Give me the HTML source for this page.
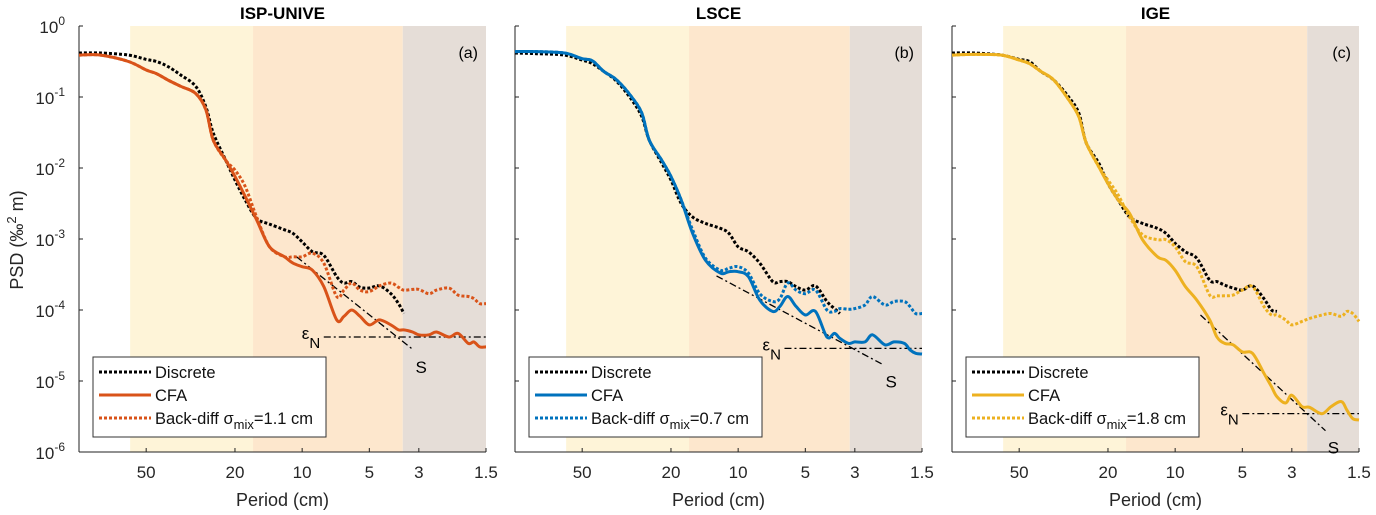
<!DOCTYPE html>
<html><head><meta charset="utf-8">
<style>
html,body{margin:0;padding:0;background:#fff;}
svg{display:block;font-family:"Liberation Sans",Arial,sans-serif;}
</style></head>
<body>
<svg id="chart" width="1376" height="515" viewBox="0 0 1376 515" xmlns="http://www.w3.org/2000/svg"></svg>
<script>
// ---- data ----
const periods = [100,80,60,50,45,40,35,30,27,25,22,20,18,16,14,12,11,10,9,8,7,6.5,6,5.5,5,4.5,4,3.7,3.5,3.2,3,2.7,2.5,2.2,2,1.8,1.7,1.6,1.5];
const xTickLabels = [50,20,10,5,3,1.5];
const yTickExps = [0,-1,-2,-3,-4,-5,-6];
const panelTitles = ["ISP-UNIVE","LSCE","IGE"];
const panelTags = ["(a)","(b)","(c)"];
const panelColors = ["#d95319","#0072bd","#edb120"];
const sigmaLabels = ["1.1","0.7","1.8"];
const grayBandStart = [3.54,3.16,2.56];
// log10 PSD values on the periods grid
const aDiscrete = [-0.38,-0.38,-0.41,-0.47,-0.50,-0.57,-0.69,-0.85,-1.14,-1.51,-1.89,-2.17,-2.45,-2.71,-2.79,-2.87,-2.92,-3.04,-3.18,-3.23,-3.53,-3.62,-3.60,-3.68,-3.69,-3.66,-3.77,-3.91,-4.05,null,null,null,null,null,null,null,null,null,null];
const aCFA = [-0.41,-0.41,-0.50,-0.62,-0.67,-0.76,-0.85,-0.95,-1.18,-1.61,-1.89,-2.12,-2.40,-2.73,-3.11,-3.25,-3.34,-3.39,-3.44,-3.67,-4.14,-4.09,-4.00,-4.09,-4.21,-4.14,-4.21,-4.28,-4.28,-4.31,-4.35,-4.35,-4.31,-4.38,-4.33,-4.47,-4.45,-4.52,-4.52];
const aBack = [-0.41,-0.41,-0.50,-0.62,-0.67,-0.76,-0.85,-0.95,-1.18,-1.61,-1.89,-2.03,-2.26,-2.69,-3.11,-3.25,-3.25,-3.25,-3.20,-3.34,-3.81,-3.72,-3.62,-3.72,-3.74,-3.66,-3.62,-3.68,-3.72,-3.71,-3.71,-3.77,-3.72,-3.69,-3.79,-3.81,-3.84,-3.91,-3.91];
const bDiscrete = [-0.38,-0.39,-0.41,-0.48,-0.53,-0.64,-0.78,-1.04,-1.28,-1.61,-1.93,-2.17,-2.50,-2.69,-2.78,-2.85,-2.92,-3.11,-3.18,-3.34,-3.60,-3.60,-3.60,-3.67,-3.72,-3.66,-3.88,-3.98,-4.05,null,null,null,null,null,null,null,null,null,null];
const bCFA = [-0.36,-0.36,-0.38,-0.46,-0.49,-0.64,-0.76,-1.00,-1.23,-1.61,-1.89,-2.12,-2.45,-2.92,-3.30,-3.48,-3.46,-3.46,-3.53,-3.86,-4.02,-3.95,-3.81,-3.95,-4.07,-4.02,-4.38,-4.33,-4.40,-4.47,-4.45,-4.45,-4.35,-4.49,-4.45,-4.47,-4.56,-4.61,-4.62];
const bBack = [-0.36,-0.36,-0.38,-0.46,-0.49,-0.64,-0.76,-1.00,-1.23,-1.61,-1.89,-2.12,-2.45,-2.87,-3.27,-3.44,-3.41,-3.39,-3.48,-3.77,-3.88,-3.84,-3.62,-3.72,-3.77,-3.72,-4.00,-4.02,-3.98,-3.99,-3.98,-3.93,-3.81,-3.93,-3.88,-3.88,-3.95,-4.05,-4.05];
const cDiscrete = [-0.38,-0.38,-0.41,-0.47,-0.50,-0.64,-0.76,-1.00,-1.23,-1.65,-1.93,-2.22,-2.45,-2.69,-2.78,-2.85,-2.92,-3.06,-3.18,-3.27,-3.58,-3.60,-3.65,-3.69,-3.72,-3.66,-3.84,-4.00,-4.02,null,null,null,null,null,null,null,null,null,null];
const cCFA = [-0.41,-0.40,-0.41,-0.48,-0.53,-0.64,-0.76,-1.04,-1.28,-1.65,-1.98,-2.22,-2.45,-2.64,-3.01,-3.25,-3.30,-3.44,-3.67,-3.86,-4.14,-4.38,-4.47,-4.49,-4.59,-4.61,-4.89,-5.08,-5.22,-5.31,-5.20,-5.36,-5.37,-5.46,-5.36,-5.29,-5.41,-5.53,-5.55];
const cBack = [-0.41,-0.40,-0.41,-0.48,-0.53,-0.64,-0.76,-1.04,-1.28,-1.65,-1.98,-2.17,-2.38,-2.69,-2.94,-3.01,-3.01,-3.11,-3.32,-3.39,-3.79,-3.80,-3.80,-3.79,-3.72,-3.67,-3.95,-4.07,-4.07,-4.14,-4.21,-4.16,-4.12,-4.07,-4.05,-4.09,-4.02,-4.05,-4.16];
// slope line S: [startPeriod, startLog, endPeriod, endLog]; noise level eps_N: [startPeriod, log]
const slopeLines = [[10.6,-3.25,3.18,-4.56],[12.5,-3.52,2.24,-4.77],[7.7,-4.07,2.12,-5.70]];
const noiseLines = [[8.0,-4.38],[6.2,-4.54],[5.0,-5.46]];

const NS="http://www.w3.org/2000/svg";
const svg=document.getElementById('chart');
function el(tag,attrs,parent){const e=document.createElementNS(NS,tag);for(const k in attrs)e.setAttribute(k,attrs[k]);(parent||svg).appendChild(e);return e;}
function smoothPath(pts){
  if(!pts.length)return '';
  let d='M'+pts[0][0].toFixed(1)+','+pts[0][1].toFixed(1);
  for(let i=0;i<pts.length-1;i++){
    const p0=pts[i-1]||pts[i],p1=pts[i],p2=pts[i+1],p3=pts[i+2]||p2;
    const c1=[p1[0]+(p2[0]-p0[0])/6,p1[1]+(p2[1]-p0[1])/6];
    const c2=[p2[0]-(p3[0]-p1[0])/6,p2[1]-(p3[1]-p1[1])/6];
    d+='C'+c1[0].toFixed(1)+','+c1[1].toFixed(1)+' '+c2[0].toFixed(1)+','+c2[1].toFixed(1)+' '+p2[0].toFixed(1)+','+p2[1].toFixed(1);
  }
  return d;
}

const panelLefts=[79,515,952], W=407, TOP=26, BOT=452;
const pMax=100, pMin=1.5;
const series=[[aDiscrete,aCFA,aBack],[bDiscrete,bCFA,bBack],[cDiscrete,cCFA,cBack]];

for(let p=0;p<3;p++){
  const L=panelLefts[p];
  const xs=P=>L+(Math.log10(pMax)-Math.log10(P))/(Math.log10(pMax)-Math.log10(pMin))*W;
  const ys=lg=>TOP+(0-lg)/6*(BOT-TOP);
  const g=el('g',{});
  
  
  const bands=[[59,16.6,'#fef4d8','band-transition'],[16.6,grayBandStart[p],'#fde7cd','band-signal'],[grayBandStart[p],pMin,'#e5ddd7','band-noise']];
  bands.forEach(b=>{const r=el('rect',{x:xs(b[0]),y:TOP,width:xs(b[1])-xs(b[0]),height:BOT-TOP,fill:b[2]},g);
    
    });
  const t=el('text',{x:L+W/2,y:19,'text-anchor':'middle','font-size':17,'font-weight':'bold'},g);t.textContent=panelTitles[p];
  
  
  const tag=el('text',{x:L+W-8,y:58,'text-anchor':'end','font-size':16},g);tag.textContent=panelTags[p];
  
  
  el('line',{x1:L,y1:TOP,x2:L,y2:BOT,stroke:'#222','stroke-width':1},g);
  el('line',{x1:L,y1:BOT,x2:L+W,y2:BOT,stroke:'#222','stroke-width':1},g);
  yTickExps.forEach(e=>{const y=ys(e);el('line',{x1:L,y1:y,x2:L+4,y2:y,stroke:'#222'},g);
    if(p===0){const tx=el('text',{x:L-14,y:y+7,'text-anchor':'end','font-size':17,fill:'#262626'},g);
      tx.textContent='10';const ts=el('tspan',{dy:-8,'font-size':12},tx);ts.textContent=String(e);
      
      }});
  xTickLabels.forEach(v=>{const x=xs(v);el('line',{x1:x,y1:BOT,x2:x,y2:BOT-4,stroke:'#222'},g);
    const tx=el('text',{x:x,y:478,'text-anchor':'middle','font-size':17,fill:'#262626'},g);tx.textContent=String(v);
    
    });
  const xl=el('text',{x:L+W/2,y:506,'text-anchor':'middle','font-size':18,fill:'#262626'},g);xl.textContent='Period (cm)';
  
  
  const s=slopeLines[p];
  const sl=el('line',{x1:xs(s[0]),y1:ys(s[1]),x2:xs(s[2]),y2:ys(s[3]),stroke:'#000','stroke-width':1.3,'stroke-dasharray':'7,3,2,3'},g);
  
  
  const sLab=el('text',{x:xs(s[2])+8,y:ys(s[3])+23,'font-size':17,'text-anchor':'middle'},g);sLab.textContent='S';
  
  
  const n=noiseLines[p];
  const nl=el('line',{x1:xs(n[0]),y1:ys(n[1]),x2:L+W,y2:ys(n[1]),stroke:'#000','stroke-width':1.3,'stroke-dasharray':'7,3,2,3'},g);
  
  
  const nLab=el('text',{x:xs(n[0])-22,y:ys(n[1])+2,'font-size':17},g);nLab.textContent='ε';
  const nsub=el('tspan',{dy:9,'font-size':15},nLab);nsub.textContent='N';
  
  
  const styles=[{c:'#000',d:'3,2',n:'discrete-line'},{c:panelColors[p],d:'',n:'cfa-line'},{c:panelColors[p],d:'3,2',n:'back-diff-line'}];
  [0,2,1].forEach(si=>{const arr=series[p][si];const pts=[];
    arr.forEach((v,i)=>{if(v===null)return;pts.push([xs(periods[i]),ys(v)]);});
    const path=el('path',{d:smoothPath(pts),fill:'none',stroke:styles[si].c,'stroke-width':3,'stroke-linejoin':'round'},g);
    if(styles[si].d)path.setAttribute('stroke-dasharray',styles[si].d);
    
    });
  const lg=el('g',{},g);
  
  
  const lx=L+14, ly=357;
  el('rect',{x:lx,y:ly,width:233,height:80,fill:'#fff',stroke:'#333','stroke-width':1},lg);
  const labels=['Discrete','CFA',null];
  [0,1,2].forEach(k=>{const yy=ly+15+k*23;
    const ln=el('line',{x1:lx+6,y1:yy,x2:lx+58,y2:yy,stroke:styles[k].c,'stroke-width':3},lg);
    if(styles[k].d)ln.setAttribute('stroke-dasharray',styles[k].d);
    const tx=el('text',{x:lx+62,y:yy+6,'font-size':16.5,fill:'#111'},lg);
    if(labels[k])tx.textContent=labels[k];
    else{tx.textContent='Back-diff σ';const sb=el('tspan',{dy:5,'font-size':13},tx);sb.textContent='mix';
      const rest=el('tspan',{dy:-5},tx);rest.textContent='='+sigmaLabels[p]+' cm';}
    
    });
}
const yt=el('text',{x:0,y:0,'text-anchor':'middle','font-size':18,fill:'#262626',transform:'translate(23,240) rotate(-90)'});
yt.textContent='PSD (‰';
const sup=el('tspan',{dy:-7,'font-size':13},yt);sup.textContent='2';
const rest=el('tspan',{dy:7},yt);rest.textContent=' m)';


</script>
</body></html>
